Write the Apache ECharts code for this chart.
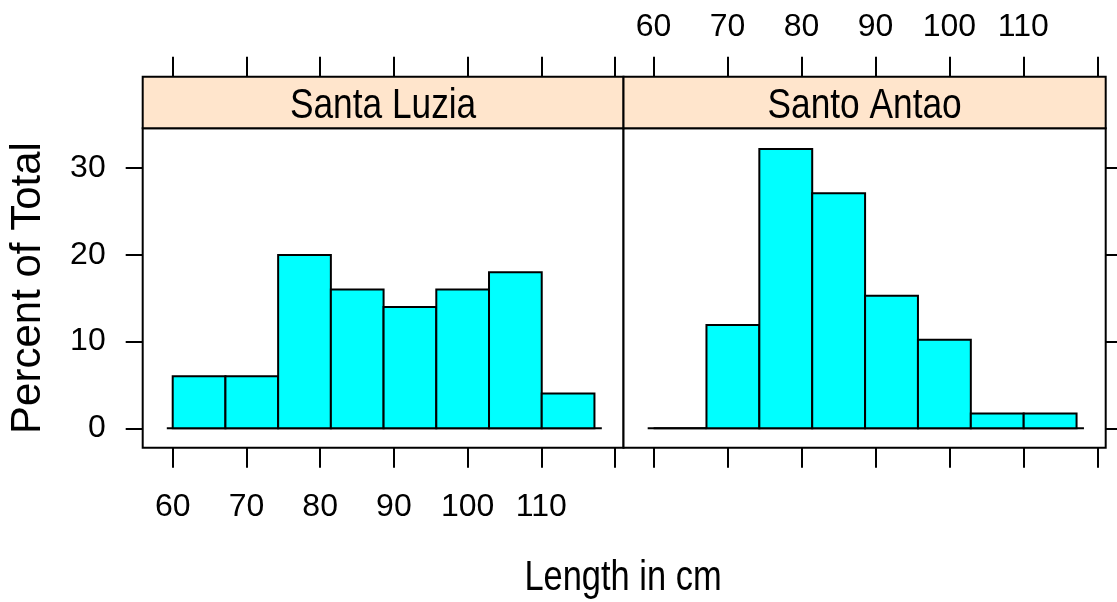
<!DOCTYPE html>
<html>
<head>
<meta charset="utf-8">
<script src="https://cdn.jsdelivr.net/npm/echarts@6/dist/echarts.min.js"></script>
<style>
  html, body { margin: 0; padding: 0; background: #fff; }
  #chart { width: 1117px; height: 602px; }
</style>
</head>
<body>
<div id="chart"></div>
<script>
// Panels (one per island) and the shared histogram bin edges (cm)
const panels = ['Santa Luzia', 'Santo Antao'];
const binEdges = [60, 67.15, 74.3, 81.45, 88.6, 95.75, 102.9, 110.05, 117.2];

// Percent of total in each bin
const santaLuzia = [6, 6, 20, 16, 14, 16, 18, 4];
const santoAntao = [0, 11.9, 32.2, 27.1, 15.3, 10.2, 1.7, 1.7];

// Axis ticks and labels
const xTicks = [60, 70, 80, 90, 100, 110, 120];
const xLabels = [60, 70, 80, 90, 100, 110];
const yTicks = [0, 10, 20, 30];

// Zero reference line extent
const baseline = [59.2, 118.2];

const X_MIN = 55.93, X_MAX = 121.14;
const Y_MIN = -2.24, Y_MAX = 34.6;

const font = "'Liberation Sans', Arial, sans-serif";
const NARROW = 0.82; // horizontal squeeze for the condensed headings

const chart = echarts.init(document.getElementById('chart'));

function binData(values) {
  return values.map((v, i) => [binEdges[i], binEdges[i + 1], v]);
}

function renderBar(params, api) {
  const p0 = api.coord([api.value(0), 0]);
  const p1 = api.coord([api.value(1), api.value(2)]);
  return {
    type: 'rect',
    shape: { x: p0[0], y: p1[1], width: p1[0] - p0[0], height: p0[1] - p1[1] },
    style: { fill: '#00FFFF', stroke: '#000', lineWidth: 2 }
  };
}

const grids = [
  { left: 142.7, top: 128.3, width: 480.8, height: 319.4 },
  { left: 623.5, top: 128.3, width: 482.2, height: 319.4 }
].map(g => Object.assign(g, { show: true, borderColor: '#000', borderWidth: 2, backgroundColor: '#fff' }));

function xAxis(gridIndex, position, labelled) {
  return {
    type: 'value', gridIndex, position, min: X_MIN, max: X_MAX,
    offset: position === 'top' ? 51.6 : 0,
    axisLine: { show: false, onZero: false },
    splitLine: { show: false },
    axisTick: { show: true, inside: false, length: 20, customValues: xTicks, lineStyle: { color: '#000', width: 2 } },
    axisLabel: {
      show: labelled, customValues: xLabels, margin: position === 'top' ? 34 : 43,
      color: '#000', fontFamily: font, fontSize: 32
    }
  };
}

function yAxis(gridIndex, position, labelled) {
  return {
    type: 'value', gridIndex, position, min: Y_MIN, max: Y_MAX,
    axisLine: { show: false, onZero: false },
    splitLine: { show: false },
    axisTick: { show: true, inside: false, length: position === 'left' ? 17 : 14, customValues: yTicks, lineStyle: { color: '#000', width: 2 } },
    axisLabel: {
      show: labelled, customValues: yTicks, margin: 37,
      color: '#000', fontFamily: font, fontSize: 32
    }
  };
}

const seriesValues = [santaLuzia, santoAntao];
const series = [];
seriesValues.forEach((vals, i) => {
  series.push({
    type: 'line', xAxisIndex: i * 2, yAxisIndex: i,
    data: [[baseline[0], 0], [baseline[1], 0]],
    symbol: 'none', lineStyle: { color: '#000', width: 2 }, silent: true, z: 1
  });
  series.push({
    type: 'custom', name: panels[i], xAxisIndex: i * 2, yAxisIndex: i,
    data: binData(vals), renderItem: renderBar, z: 2
  });
});

// Strip headers above each panel
const strips = grids.map((g, i) => ({
  type: 'group',
  children: [
    {
      type: 'rect',
      shape: { x: g.left, y: 76.7, width: g.width, height: 51.6 },
      style: { fill: '#FFE5CC', stroke: '#000', lineWidth: 2 }
    },
    {
      type: 'text',
      x: g.left + g.width / 2, y: 106, scaleX: NARROW,
      style: { text: panels[i], fill: '#000', font: '43px ' + font, align: 'center', verticalAlign: 'middle' }
    }
  ]
}));

chart.setOption({
  animation: false,
  grid: grids,
  xAxis: [xAxis(0, 'bottom', true), xAxis(0, 'top', false), xAxis(1, 'bottom', false), xAxis(1, 'top', true)],
  yAxis: [yAxis(0, 'left', true), yAxis(1, 'right', false)],
  series: series,
  graphic: strips.concat([
    {
      type: 'text', x: 623, y: 578, scaleX: NARROW,
      style: { text: 'Length in cm', fill: '#000', font: '42px ' + font, align: 'center', verticalAlign: 'middle' }
    },
    {
      type: 'text', x: 28, y: 288, rotation: Math.PI / 2,
      style: { text: 'Percent of Total', fill: '#000', font: '42px ' + font, align: 'center', verticalAlign: 'middle' }
    }
  ])
});
</script>
</body>
</html>
